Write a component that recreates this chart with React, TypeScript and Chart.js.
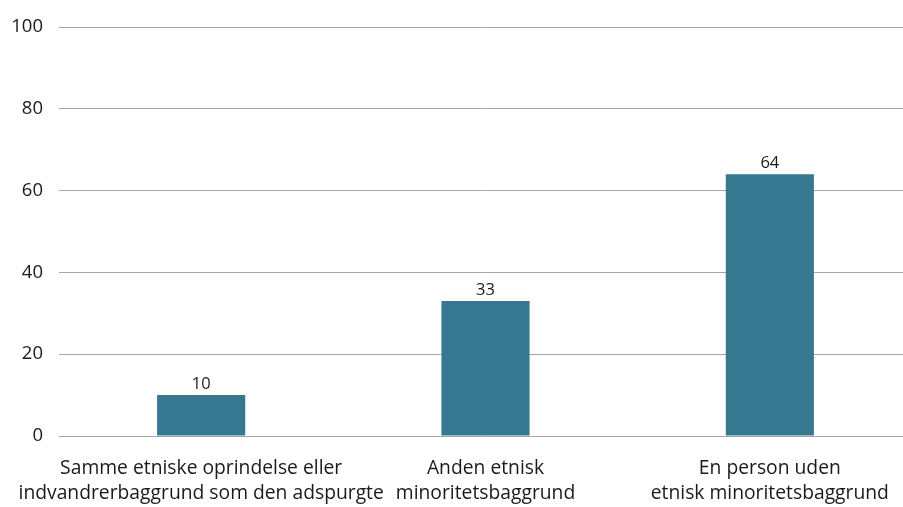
import React, { useEffect, useRef } from "react";
import { Chart, registerables } from "chart.js";

Chart.register(...registerables);

const categories: string[][] = [
  ["Samme etniske oprindelse eller", "indvandrerbaggrund som den adspurgte"],
  ["Anden etnisk", "minoritetsbaggrund"],
  ["En person uden", "etnisk minoritetsbaggrund"],
];
const values: number[] = [10, 33, 64];
const yTicks: number[] = [0, 20, 40, 60, 80, 100];

const FONT = "'Open Sans', 'Noto Sans', sans-serif";
const BAR_COLOR = "#35788f";

const dataLabels = {
  id: "dataLabels",
  afterDatasetsDraw(chart: any) {
    const ctx = chart.ctx;
    const meta = chart.getDatasetMeta(0);
    ctx.save();
    ctx.font = `16.5px ${FONT}`;
    ctx.fillStyle = "#1a1a1a";
    ctx.textAlign = "center";
    ctx.textBaseline = "bottom";
    meta.data.forEach((el: any, i: number) => {
      ctx.fillText(String(values[i]), el.x, el.y - 3);
    });
    ctx.restore();
  },
};

export default function App() {
  const ref = useRef<HTMLCanvasElement | null>(null);
  useEffect(() => {
    if (!ref.current) return;
    const chart = new Chart(ref.current, {
      type: "bar",
      data: {
        labels: categories,
        datasets: [
          {
            data: values,
            backgroundColor: BAR_COLOR,
            borderWidth: 0,
            categoryPercentage: 1,
            barPercentage: 0.31,
          },
        ],
      },
      options: {
        responsive: false,
        animation: false,
        devicePixelRatio: 1,
        layout: { padding: { top: 23, right: 0, left: 0, bottom: 0 } },
        plugins: { legend: { display: false }, tooltip: { enabled: false } },
        scales: {
          x: {
            grid: { display: false, drawTicks: false },
            border: { display: false },
            ticks: {
              autoSkip: false,
              maxRotation: 0,
              padding: 20,
              color: "#1a1a1a",
              font: { family: FONT, size: 19.3, lineHeight: 1.3 },
            },
            afterFit: (s: any) => {
              s.height = 71;
              s.paddingLeft = 0;
              s.paddingRight = 0;
            },
          },
          y: {
            min: 0,
            max: 100,
            afterBuildTicks: (s: any) => {
              s.ticks = yTicks.map((v) => ({ value: v }));
            },
            grid: { color: "#a6a6a6", lineWidth: 1, drawTicks: false },
            border: { display: false },
            ticks: {
              padding: 16,
              color: "#1a1a1a",
              font: { family: FONT, size: 18.5 },
            },
            afterFit: (s: any) => {
              s.width = 59;
            },
          },
        },
      },
      plugins: [dataLabels],
    });
    return () => chart.destroy();
  }, []);
  return (
    <div
      style={{
        position: "fixed",
        left: 0,
        top: 0,
        width: 903,
        height: 507,
        overflow: "hidden",
        background: "#fff",
      }}
    >
      <canvas ref={ref} width={912} height={507} style={{ display: "block" }} />
    </div>
  );
}
